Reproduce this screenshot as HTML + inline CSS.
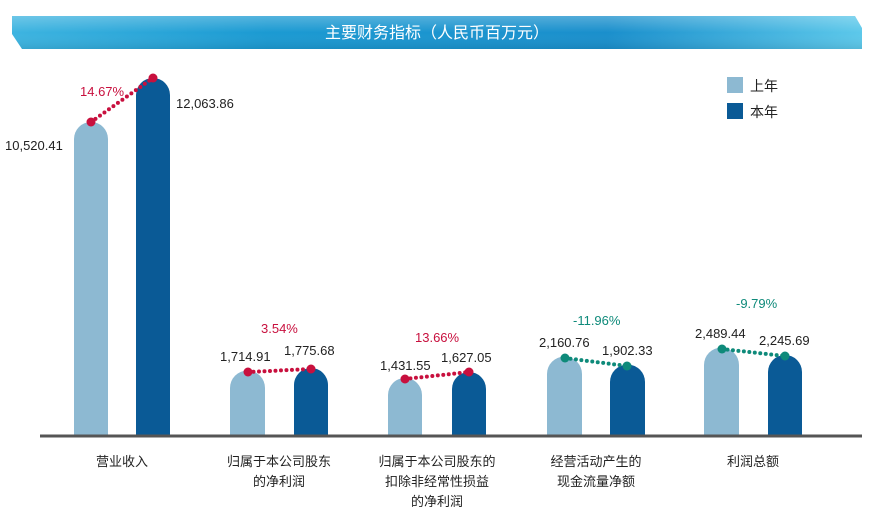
<!DOCTYPE html>
<html><head><meta charset="utf-8"><style>
body{margin:0;background:#fff;width:875px;height:524px;overflow:hidden}
svg{display:block;font-family:"Liberation Sans","Noto Sans CJK SC",sans-serif}
</style></head><body>
<svg width="875" height="524" viewBox="0 0 875 524">
<defs>
<linearGradient id="bg" x1="0" y1="0" x2="1" y2="0">
<stop offset="0" stop-color="#3db4e0"/><stop offset="0.3" stop-color="#1b9ad2"/><stop offset="0.7" stop-color="#1a8fcc"/><stop offset="1" stop-color="#5cc8ea"/></linearGradient>
<linearGradient id="bv" x1="0" y1="0" x2="0" y2="1">
<stop offset="0" stop-color="#fff" stop-opacity="0.25"/><stop offset="0.5" stop-color="#fff" stop-opacity="0"/><stop offset="1" stop-color="#000" stop-opacity="0.08"/></linearGradient>
</defs>
<polygon points="12,16 855,16 862,28 862,49 22,49 12,34" fill="url(#bg)"/>
<polygon points="12,16 855,16 862,28 862,49 22,49 12,34" fill="url(#bv)"/>
<text x="437" y="38" font-size="16" fill="#fff" text-anchor="middle">主要财务指标（人民币百万元）</text>

<g fill="#8db9d2">
<path d="M74,436V139a17,17 0 0 1 34,0V436Z"/>
<path d="M230,436V388a17,17 0 0 1 35,0V436Z"/>
<path d="M388,436V395a17,17 0 0 1 34,0V436Z"/>
<path d="M547,436V374a17,17 0 0 1 35,0V436Z"/>
<path d="M704,436V365a17,17 0 0 1 35,0V436Z"/>
</g>
<g fill="#0a5a96">
<path d="M136,436V95a17,17 0 0 1 34,0V436Z"/>
<path d="M294,436V385a17,17 0 0 1 34,0V436Z"/>
<path d="M452,436V389a17,17 0 0 1 34,0V436Z"/>
<path d="M610,436V382a17,17 0 0 1 35,0V436Z"/>
<path d="M768,436V372a17,17 0 0 1 34,0V436Z"/>
</g>
<line x1="40" y1="436" x2="862" y2="436" stroke="#555" stroke-width="3"/>

<g stroke-dasharray="0,5.5" stroke-width="4" stroke-linecap="round">
<line x1="91" y1="122" x2="153" y2="78" stroke="#c8103e"/>
<line x1="248" y1="372" x2="311" y2="369" stroke="#c8103e"/>
<line x1="405" y1="379" x2="469" y2="372" stroke="#c8103e"/>
<line x1="565" y1="358" x2="627" y2="366" stroke="#0e8a7a"/>
<line x1="722" y1="349" x2="785" y2="356" stroke="#0e8a7a"/>
</g>
<g fill="#c8103e"><circle cx="91" cy="122" r="4.5"/><circle cx="153" cy="78" r="4.5"/><circle cx="248" cy="372" r="4.5"/><circle cx="311" cy="369" r="4.5"/><circle cx="405" cy="379" r="4.5"/><circle cx="469" cy="372" r="4.5"/></g>
<g fill="#0e8a7a"><circle cx="565" cy="358" r="4.5"/><circle cx="627" cy="366" r="4.5"/><circle cx="722" cy="349" r="4.5"/><circle cx="785" cy="356" r="4.5"/></g>

<g font-size="13" fill="#222">
<text x="5" y="150">10,520.41</text>
<text x="176" y="108">12,063.86</text>
<text x="220" y="361">1,714.91</text>
<text x="284" y="355">1,775.68</text>
<text x="380" y="370">1,431.55</text>
<text x="441" y="362">1,627.05</text>
<text x="539" y="347">2,160.76</text>
<text x="602" y="355">1,902.33</text>
<text x="695" y="338">2,489.44</text>
<text x="759" y="345">2,245.69</text>
</g>
<g font-size="13" fill="#c8103e">
<text x="80" y="96">14.67%</text>
<text x="261" y="333">3.54%</text>
<text x="415" y="342">13.66%</text>
</g>
<g font-size="13" fill="#0e8a7a">
<text x="573" y="325">-11.96%</text>
<text x="736" y="308">-9.79%</text>
</g>

<rect x="727" y="77" width="16" height="16" fill="#8db9d2"/>
<rect x="727" y="103" width="16" height="16" fill="#0a5a96"/>
<text x="750" y="91" font-size="14" fill="#222">上年</text>
<text x="750" y="117" font-size="14" fill="#222">本年</text>

<g font-size="13" fill="#222" text-anchor="middle">
<text x="122" y="466">营业收入</text>
<text x="279" y="466">归属于本公司股东</text>
<text x="279" y="486">的净利润</text>
<text x="437" y="466">归属于本公司股东的</text>
<text x="437" y="486">扣除非经常性损益</text>
<text x="437" y="506">的净利润</text>
<text x="596" y="466">经营活动产生的</text>
<text x="596" y="486">现金流量净额</text>
<text x="753" y="466">利润总额</text>
</g>
</svg>
</body></html>
